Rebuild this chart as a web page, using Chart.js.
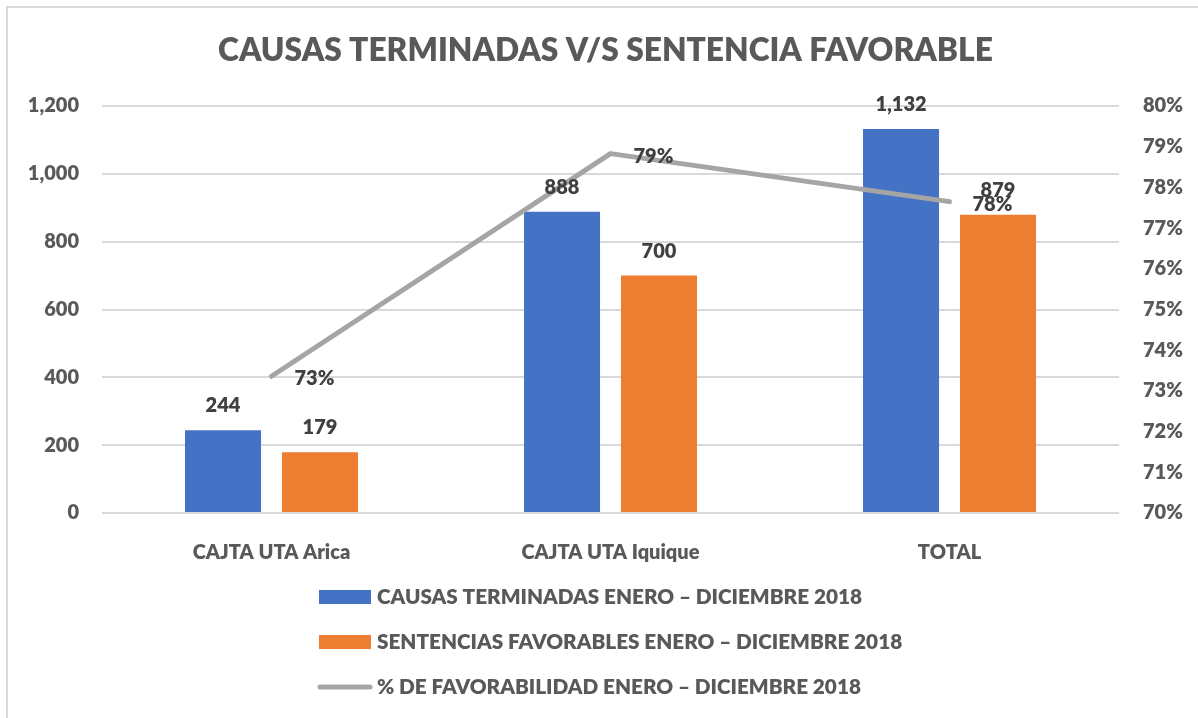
<!DOCTYPE html>
<html>
<head>
<meta charset="utf-8">
<script src="https://cdn.jsdelivr.net/npm/chart.js@4"></script>
<style>
  html, body { margin: 0; padding: 0; background: #ffffff; }
  #wrap { position: relative; width: 1198px; height: 718px; overflow: hidden; }
  #frame { position: absolute; left: 6px; top: 6px; width: 1300px; height: 800px;
           border-left: 2px solid #d9d9d9; border-top: 2px solid #d9d9d9; box-sizing: border-box; }
  canvas { position: absolute; left: 0; top: 0; }
</style>
</head>
<body>
<div id="wrap">
  <div id="frame"></div>
  <canvas id="c" width="1198" height="718"></canvas>
</div>
<script>
// ---- data ----
const categories = ['CAJTA UTA Arica', 'CAJTA UTA Iquique', 'TOTAL'];
const causasTerminadas = [244, 888, 1132];
const sentenciasFavorables = [179, 700, 879];
const favorabilidad = [73.36, 78.83, 77.65];
const seriesNames = [
  'CAUSAS TERMINADAS ENERO – DICIEMBRE 2018',
  'SENTENCIAS FAVORABLES ENERO – DICIEMBRE 2018',
  '% DE FAVORABILIDAD ENERO – DICIEMBRE 2018'
];
const chartTitle = 'CAUSAS TERMINADAS V/S SENTENCIA FAVORABLE';
const leftTicks = { min: 0, max: 1200, step: 200 };
const rightTicks = { min: 70, max: 80, step: 1 };

// ---- styling ----
const FAMILY = 'Lato, "Open Sans", "Liberation Sans", sans-serif';
const WEIGHT = '800';
const BLUE = '#4472c4', ORANGE = '#ed7d31', GREY = '#a5a5a5';
const AXIS_TXT = '#595959', LABEL_TXT = '#404040';

function fitSize(ctx, text, target) {
  ctx.font = WEIGHT + ' 100px ' + FAMILY;
  return 100 * target / ctx.measureText(text).width;
}

const overlay = {
  id: 'overlay',
  afterDatasetsDraw(chart) {
    const ctx = chart.ctx;
    ctx.save();
    ctx.fillStyle = LABEL_TXT;
    ctx.font = WEIGHT + ' 20px ' + FAMILY;
    ctx.textBaseline = 'alphabetic';
    chart.data.datasets.forEach((ds, di) => {
      const meta = chart.getDatasetMeta(di);
      meta.data.forEach((el, i) => {
        const v = ds.data[i];
        if (ds.type === 'line') {
          ctx.textAlign = 'left';
          ctx.fillText(Math.round(v) + '%', el.x + 23, el.y + 2 + 7.2);
        } else {
          ctx.textAlign = 'center';
          ctx.fillText(v.toLocaleString('en-US'), el.x, el.y - 25 + 7.2);
        }
      });
    });
    ctx.restore();
  },
  afterDraw(chart) {
    const ctx = chart.ctx;
    ctx.save();
    // title
    const ts = fitSize(ctx, chartTitle, 775);
    ctx.font = WEIGHT + ' ' + ts + 'px ' + FAMILY;
    ctx.fillStyle = AXIS_TXT;
    ctx.textAlign = 'center';
    ctx.textBaseline = 'alphabetic';
    ctx.fillText(chartTitle, 605.5, 50 + 0.36 * ts);
    // legend
    const ls = fitSize(ctx, seriesNames[0], 485);
    ctx.font = WEIGHT + ' ' + ls + 'px ' + FAMILY;
    ctx.textAlign = 'left';
    const rows = [597, 642, 687];
    chart.data.datasets.forEach((ds, di) => {
      const y = rows[di];
      if (ds.type === 'line') {
        ctx.strokeStyle = ds.borderColor;
        ctx.lineWidth = 5;
        ctx.lineCap = 'round';
        ctx.beginPath();
        ctx.moveTo(320, y);
        ctx.lineTo(370, y);
        ctx.stroke();
      } else {
        ctx.fillStyle = ds.backgroundColor;
        ctx.fillRect(319, y - 7, 52, 14);
      }
      ctx.fillStyle = AXIS_TXT;
      ctx.fillText(ds.label, 377, y + 0.36 * ls);
    });
    ctx.restore();
  }
};

const tickFont = { family: FAMILY, size: 20, weight: WEIGHT };

new Chart(document.getElementById('c'), {
  data: {
    labels: categories,
    datasets: [
      { type: 'bar', label: seriesNames[0], data: causasTerminadas, backgroundColor: BLUE,
        yAxisID: 'y', order: 2, categoryPercentage: 0.572, barPercentage: 0.784 },
      { type: 'bar', label: seriesNames[1], data: sentenciasFavorables, backgroundColor: ORANGE,
        yAxisID: 'y', order: 2, categoryPercentage: 0.572, barPercentage: 0.784 },
      { type: 'line', label: seriesNames[2], data: favorabilidad, borderColor: GREY, backgroundColor: GREY,
        borderWidth: 5, pointRadius: 0, tension: 0, borderCapStyle: 'round', borderJoinStyle: 'round',
        yAxisID: 'y1', order: 1 }
    ]
  },
  options: {
    responsive: false,
    animation: false,
    layout: { padding: { top: 106, left: 0, right: 0, bottom: 145 } },
    plugins: { legend: { display: false }, title: { display: false }, tooltip: { enabled: false } },
    scales: {
      x: {
        grid: { display: false },
        border: { display: false },
        ticks: { color: AXIS_TXT, font: tickFont, padding: 20 },
        afterFit(s) { s.height = 60; }
      },
      y: {
        position: 'left',
        min: leftTicks.min, max: leftTicks.max,
        grid: { color: '#d9d9d9', lineWidth: 2, drawTicks: false },
        border: { display: false },
        ticks: { stepSize: leftTicks.step, color: AXIS_TXT, padding: 23, font: tickFont,
                 callback: v => v.toLocaleString('en-US') },
        afterFit(s) { s.width = 102; }
      },
      y1: {
        position: 'right',
        min: rightTicks.min, max: rightTicks.max,
        grid: { display: false, drawTicks: false },
        border: { display: false },
        ticks: { stepSize: rightTicks.step, color: AXIS_TXT, padding: 24, font: tickFont,
                 callback: v => v + '%' },
        afterFit(s) { s.width = 79; }
      }
    }
  },
  plugins: [overlay]
});
</script>
</body>
</html>
